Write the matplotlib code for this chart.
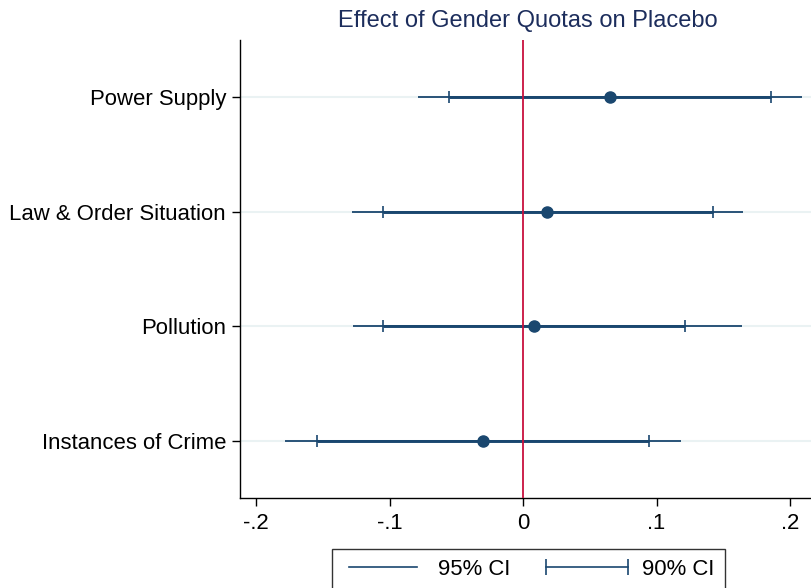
import matplotlib
matplotlib.use("Agg")
import matplotlib.pyplot as plt
from matplotlib.lines import Line2D
from matplotlib.legend_handler import HandlerLine2D

labels = ["Power Supply", "Law & Order Situation", "Pollution", "Instances of Crime"]
coef = [0.065, 0.018, 0.008, -0.030]
ci95_lo = [-0.079, -0.128, -0.127, -0.178]
ci95_hi = [0.209, 0.165, 0.164, 0.118]
ci90_lo = [-0.0555, -0.105, -0.105, -0.1545]
ci90_hi = [0.186, 0.142, 0.121, 0.094]
xticks = [-0.2, -0.1, 0, 0.1, 0.2]
xticklabels = ["-.2", "-.1", "0", ".1", ".2"]

navy = "#1a476f"
plt.rcParams["font.family"] = ["Liberation Sans", "DejaVu Sans"]
plt.rcParams["font.size"] = 15.9

fig = plt.figure(figsize=(8.11, 5.88), dpi=100)
ax = fig.add_axes([240 / 811, 1 - 498 / 588, 1 - 240 / 811, 458 / 588])

ypos = list(range(1, len(labels) + 1))
for y in ypos:
    ax.axhline(y, color="#eaf2f3", lw=1.5, zorder=0)

for y, lo, hi in zip(ypos, ci95_lo, ci95_hi):
    ax.plot([lo, hi], [y, y], color=navy, lw=1.3, solid_capstyle="butt", zorder=2)
for y, lo, hi in zip(ypos, ci90_lo, ci90_hi):
    ax.plot([lo, hi], [y, y], color=navy, lw=2.1, marker="|", markersize=9,
            markeredgewidth=1.2, solid_capstyle="butt", zorder=3)
ax.plot(coef, ypos, "o", color=navy, markersize=8, zorder=4)

ax.axvline(0, color="#c8103e", lw=1.3, zorder=3)

ax.set_ylim(4.5, 0.5)
ax.set_yticks(ypos)
ax.set_yticklabels(labels)
ax.set_xlim(-0.212, 0.2157)
ax.set_xticks(xticks)
ax.set_xticklabels(xticklabels)
ax.tick_params(axis="x", direction="out", length=5.5, width=1, pad=5)
ax.tick_params(axis="y", direction="out", length=6, width=1, pad=4)
for side in ["top", "right"]:
    ax.spines[side].set_visible(False)
for side in ["left", "bottom"]:
    ax.spines[side].set_linewidth(1.0)

fig.text(528 / 811, 1 - 21 / 588, "Effect of Gender Quotas on Placebo",
         ha="center", va="center", color="#1c2d5c", fontsize=17)

h95 = Line2D([], [], color=navy, lw=1.2)
h90 = Line2D([], [], color=navy, lw=1.2, marker="|", markersize=11, markeredgewidth=1.2)
leg = fig.legend([h95, h90], ["95% CI", "90% CI"], loc="upper center",
                 bbox_to_anchor=(528.5 / 811, 1 - 549 / 588), ncol=2,
                 frameon=True, fancybox=False, edgecolor="black",
                 handlelength=3.7, numpoints=2, columnspacing=1.6,
                 borderpad=0.45, borderaxespad=0, handletextpad=0.65,
                 handler_map={h90: HandlerLine2D(marker_pad=0, numpoints=2)})
leg.get_frame().set_linewidth(1.0)

fig.savefig("out.png", dpi=100)
